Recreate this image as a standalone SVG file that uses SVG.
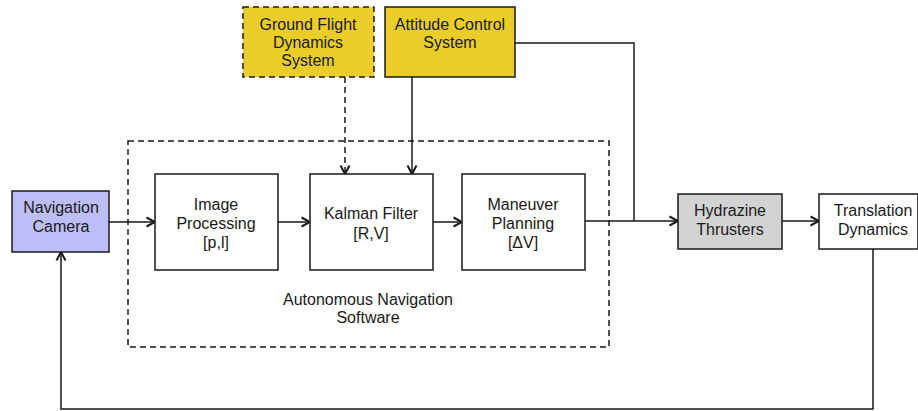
<svg xmlns="http://www.w3.org/2000/svg" width="918" height="411" viewBox="0 0 918 411">
  <style>
    text { font-family: "Liberation Sans", Arial, sans-serif; font-size: 16px; fill: #1a1a1a; text-anchor: middle; }
    .box { stroke: #1a1a1a; stroke-width: 1.5; }
    .dash { stroke-dasharray: 6 4; }
    .wire { fill: none; stroke: #1a1a1a; stroke-width: 1.5; }
  </style>
  <defs>
    <marker id="arrow" viewBox="0 0 12 12" refX="10.5" refY="6" markerWidth="12" markerHeight="12" markerUnits="userSpaceOnUse" orient="auto">
      <path d="M2,1.5 L10.5,6 L2,10.5" fill="none" stroke="#1a1a1a" stroke-width="2"/>
    </marker>
  </defs>
  <rect width="918" height="411" fill="#ffffff"/>

  <!-- software boundary -->
  <g id="software">
    <rect x="128" y="141" width="481" height="206" fill="none" class="box dash"/>
    <text x="368" y="305">Autonomous Navigation</text>
    <text x="368" y="323">Software</text>
  </g>

  <g id="connectors">
    <line x1="345" y1="77" x2="345" y2="174" class="wire dash" marker-end="url(#arrow)"/>
    <line x1="412" y1="77" x2="412" y2="174" class="wire" marker-end="url(#arrow)"/>
    <polyline points="515,43 634,43 634,221" class="wire"/>
    <line x1="109" y1="222" x2="155" y2="222" class="wire" marker-end="url(#arrow)"/>
    <line x1="278" y1="222" x2="310" y2="222" class="wire" marker-end="url(#arrow)"/>
    <line x1="433" y1="222" x2="462" y2="222" class="wire" marker-end="url(#arrow)"/>
    <line x1="585" y1="221" x2="678" y2="221" class="wire" marker-end="url(#arrow)"/>
    <line x1="782" y1="221" x2="819" y2="221" class="wire" marker-end="url(#arrow)"/>
    <polyline points="873,249 873,409 61,409 61,252" class="wire" marker-end="url(#arrow)"/>
  </g>

  <g id="ground-flight-dynamics">
    <rect x="243" y="7" width="131" height="70" fill="#ebcd2a" class="box dash"/>
    <text x="308" y="30">Ground Flight</text>
    <text x="308" y="48">Dynamics</text>
    <text x="308" y="66">System</text>
  </g>

  <g id="attitude-control">
    <rect x="385" y="7" width="130" height="70" fill="#ebcd2a" class="box"/>
    <text x="450" y="30">Attitude Control</text>
    <text x="450" y="48">System</text>
  </g>

  <g id="navigation-camera">
    <rect x="12" y="191" width="97" height="61" fill="#bdbdf7" class="box"/>
    <text x="61" y="213">Navigation</text>
    <text x="61" y="232">Camera</text>
  </g>

  <g id="image-processing">
    <rect x="155" y="174" width="123" height="96" fill="#ffffff" class="box"/>
    <text x="216" y="210">Image</text>
    <text x="216" y="229">Processing</text>
    <text x="216" y="248">[p,l]</text>
  </g>

  <g id="kalman-filter">
    <rect x="310" y="174" width="123" height="96" fill="#ffffff" class="box"/>
    <text x="371" y="219">Kalman Filter</text>
    <text x="371" y="239">[R,V]</text>
  </g>

  <g id="maneuver-planning">
    <rect x="462" y="174" width="123" height="96" fill="#ffffff" class="box"/>
    <text x="523" y="210">Maneuver</text>
    <text x="523" y="229">Planning</text>
    <text x="523" y="248">[ΔV]</text>
  </g>

  <g id="hydrazine-thrusters">
    <rect x="678" y="194" width="104" height="55" fill="#d3d3d3" class="box"/>
    <text x="730" y="216">Hydrazine</text>
    <text x="730" y="235">Thrusters</text>
  </g>

  <g id="translation-dynamics">
    <rect x="819" y="194" width="99" height="55" fill="#ffffff" class="box"/>
    <text x="873" y="216">Translation</text>
    <text x="873" y="235">Dynamics</text>
  </g>
</svg>
